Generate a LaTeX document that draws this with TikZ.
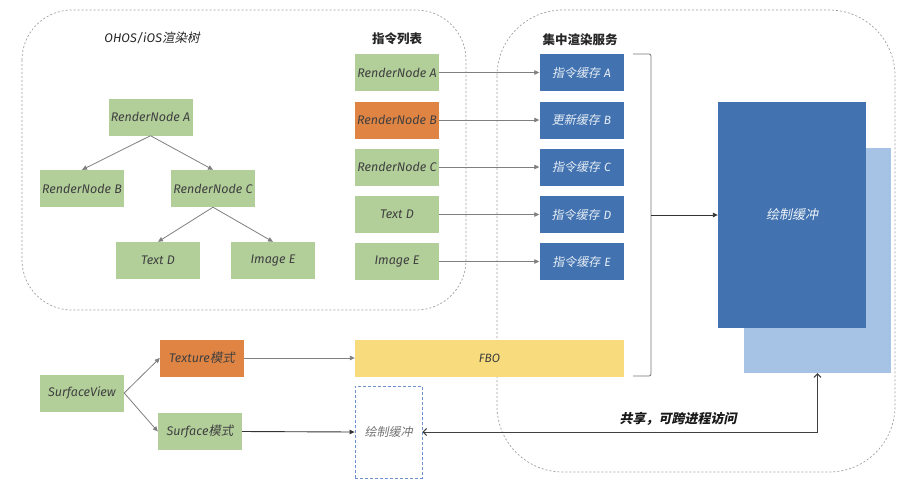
\documentclass[tikz,border=0pt]{standalone}
\usepackage{fontspec}
\usetikzlibrary{arrows.meta}
\newfontfamily\latf{Fira Sans}
\newfontfamily\cjki{Noto Sans CJK SC}[FakeSlant=0.2]
\newfontfamily\cjku{Noto Sans CJK SC}
\newcommand\LT[1]{{\latf\itshape #1}}
\newcommand\CJ[1]{{\cjki #1}}
\definecolor{cgreen}{HTML}{B2CF9A}
\definecolor{corange}{HTML}{E08443}
\definecolor{cblue}{HTML}{4273B0}
\definecolor{clight}{HTML}{A6C3E5}
\definecolor{cyellow}{HTML}{F8DB7C}
\definecolor{cdash}{HTML}{6F90CF}
\definecolor{ctext}{HTML}{404040}
\definecolor{cline}{HTML}{7F7F7F}
\definecolor{cborder}{HTML}{A0A0A0}
\begin{document}
\begin{tikzpicture}[x=1pt,y=-1pt,
  boxbase/.style={minimum width=84pt, minimum height=37pt, inner sep=0pt, font=\fontsize{12.5}{14}\selectfont, text=ctext},
  greenbox/.style={boxbase, fill=cgreen},
  orangebox/.style={boxbase, fill=corange},
  bluebox/.style={boxbase, fill=cblue, text=white!88!cblue, font=\fontsize{12}{14}\selectfont},
  grouparea/.style={draw=cborder, dashed, dash pattern=on 2pt off 2pt, rounded corners=50pt, line width=0.7pt},
  gray arrow/.style={draw=cline, line width=0.8pt, -{Triangle[length=5pt,width=4.5pt]}},
  dark arrow/.style={draw=black!80, line width=0.9pt, -{Triangle[length=5pt,width=4.5pt]}},
  share arrow/.style={draw=black!75, line width=1pt, {Straight Barb[length=3.5pt,width=7pt]}-{Straight Barb[length=3.5pt,width=7pt]}},
  titletext/.style={font=\fontsize{12.5}{14}\selectfont, text=black!85}
]
\useasboundingbox (0,0) rectangle (904,491);
% dashed groups
\draw[grouparea] (22,10) rectangle (466,310);
\draw[grouparea, rounded corners=66pt] (497,10) rectangle (895,472);

% titles
\node[titletext] (t1) at (152,38) {\LT{OHOS/iOS}\CJ{渲染树}};
\node[titletext] (t2) at (397,39) {\cjku\bfseries 指令列表};
\node[titletext] (t3) at (580,40) {\cjku\bfseries 集中渲染服务};

% tree
\node[greenbox] (ta) at (150.5,117) {\LT{RenderNode A}};
\node[greenbox] (tb) at (82,188.5) {\LT{RenderNode B}};
\node[greenbox] (tc) at (213,188.5) {\LT{RenderNode C}};
\node[greenbox] (td) at (158,260.5) {\LT{Text D}};
\node[greenbox] (te) at (273,260.5) {\LT{Image E}};
\draw[gray arrow] (ta.south) -- (tb.north);
\draw[gray arrow] (ta.south) -- (tc.north);
\draw[gray arrow] (tc.south) -- (td.north);
\draw[gray arrow] (tc.south) -- (te.north);

% list
\node[greenbox] (la) at (397,72.5) {\LT{RenderNode A}};
\node[orangebox] (lb) at (397,120) {\LT{RenderNode B}};
\node[greenbox] (lc) at (397,167) {\LT{RenderNode C}};
\node[greenbox] (ld) at (397,214.5) {\LT{Text D}};
\node[greenbox] (le) at (397,261.5) {\LT{Image E}};

% caches
\node[bluebox] (ba) at (581.5,72.5) {\CJ{指令缓存} \LT{A}};
\node[bluebox] (bb) at (581.5,120) {\CJ{更新缓存} \LT{B}};
\node[bluebox] (bc) at (581.5,167) {\CJ{指令缓存} \LT{C}};
\node[bluebox] (bd) at (581.5,214.5) {\CJ{指令缓存} \LT{D}};
\node[bluebox] (be) at (581.5,261.5) {\CJ{指令缓存} \LT{E}};
\foreach \s in {a,b,c,d,e} \draw[gray arrow] (l\s.east) -- (b\s.west);

% draw buffers
\node[fill=clight, minimum width=147pt, minimum height=225pt, inner sep=0pt] (light) at (817.5,260.5) {};
\node[fill=cblue, minimum width=148pt, minimum height=226pt, inner sep=0pt, font=\fontsize{13}{15}\selectfont, text=white!92!cblue] (big) at (792,215) {\CJ{绘制缓冲}};

% bracket
\coordinate (brt) at (633,54);
\coordinate (brb) at (633,376);
\coordinate (brm) at (651,215);
\draw[draw=black!55, line width=0.8pt, rounded corners=2pt] (brt) -- (brm |- brt) -- (brm |- brb) -- (brb);
\draw[dark arrow] (brm) -- (big.west);

% surface view
\node[greenbox] (sv) at (82,393) {\LT{SurfaceView}};
\node[orangebox] (tex) at (202,358) {\LT{Texture}\CJ{模式}};
\node[greenbox] (surf) at (200,431.5) {\LT{Surface}\CJ{模式}};
\node[fill=cyellow, minimum width=269pt, minimum height=37pt, inner sep=0pt, font=\fontsize{12}{14}\selectfont, text=ctext] (fbo) at (489.5,358) {\LT{FBO}};
\node[draw=cdash, dashed, dash pattern=on 3pt off 2pt, line width=0.8pt, minimum width=67pt, minimum height=92pt, inner sep=0pt, font=\fontsize{12}{14}\selectfont, text=black!55] (dbuf) at (388.5,432) {\CJ{绘制缓冲}};
\draw[gray arrow] (sv.east) -- (tex.west);
\draw[gray arrow] (sv.east) -- (surf.west);
\draw[gray arrow] (tex.east) -- (fbo.west);
\draw[dark arrow] (surf.east) -- (dbuf.west);
\draw[share arrow] (dbuf.east) -| (light.south);
\node[font=\fontsize{13}{15}\selectfont, text=black!90] (share) at (678,419) {\cjki\bfseries 共享，可跨进程访问};
\end{tikzpicture}
\end{document}
